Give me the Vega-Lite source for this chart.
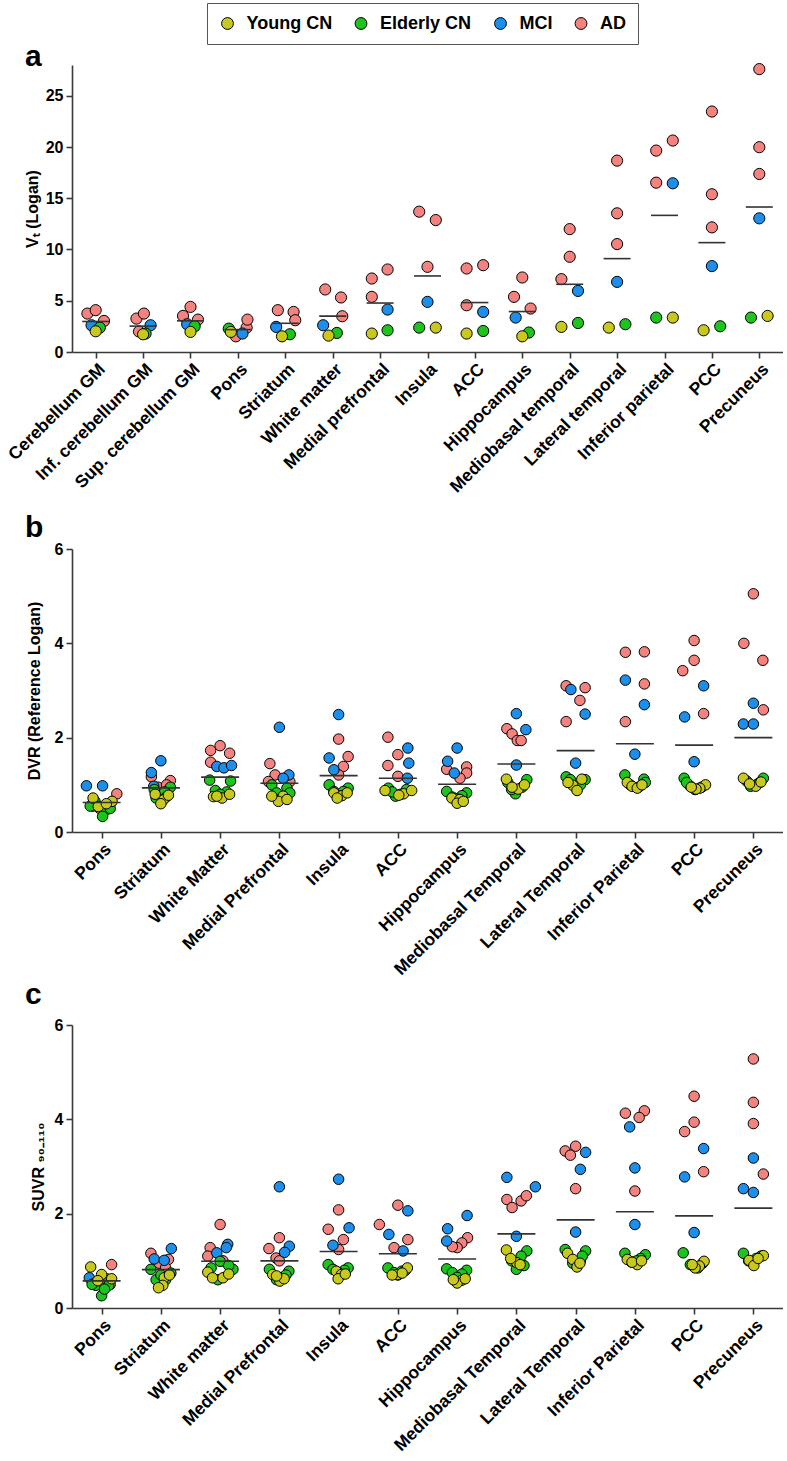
{
"$schema": "https://vega.github.io/schema/vega-lite/v6.json",
"padding": {"left": 4, "top": 2, "right": 0, "bottom": 0},
"config": {
  "font": "Liberation Sans",
  "view": {"stroke": null},
  "axis": {"domainColor": "#3a3a3a", "domainWidth": 1.6, "tickColor": "#3a3a3a", "tickWidth": 1.6, "tickSize": 6, "labelFont": "Liberation Sans", "labelFontWeight": "bold", "labelColor": "#000", "titleFont": "Liberation Sans", "titleFontWeight": "bold", "titleColor": "#000", "grid": false},
  "axisX": {"labelAngle": -45, "labelFontSize": 17.5, "labelPadding": 2},
  "axisY": {"labelFontSize": 16, "titleFontSize": 16, "labelPadding": 3},
  "title": {"font": "Liberation Sans", "fontSize": 30, "fontWeight": "bold", "color": "#000", "anchor": "start", "frame": "group", "baseline": "alphabetic", "dx": -47}
},
"resolve": {"scale": {"x": "independent", "y": "independent", "xOffset": "independent"}},
"spacing": 2,
"datasets": {
"a": [
{"region":"Cerebellum GM","group":"AD","value":3.75,"lane":-1},
{"region":"Cerebellum GM","group":"AD","value":4.08,"lane":0},
{"region":"Cerebellum GM","group":"AD","value":3.03,"lane":1},
{"region":"Cerebellum GM","group":"MCI","value":2.61,"lane":-0.5},
{"region":"Cerebellum GM","group":"Elderly CN","value":2.38,"lane":0.5},
{"region":"Cerebellum GM","group":"Young CN","value":2.02,"lane":0},
{"region":"Inf. cerebellum GM","group":"AD","value":3.26,"lane":-0.8},
{"region":"Inf. cerebellum GM","group":"AD","value":3.75,"lane":0.1},
{"region":"Inf. cerebellum GM","group":"AD","value":2.0,"lane":-0.5},
{"region":"Inf. cerebellum GM","group":"MCI","value":2.61,"lane":0.9},
{"region":"Inf. cerebellum GM","group":"Elderly CN","value":1.8,"lane":0.3},
{"region":"Inf. cerebellum GM","group":"Young CN","value":1.73,"lane":0},
{"region":"Sup. cerebellum GM","group":"AD","value":3.52,"lane":-0.9},
{"region":"Sup. cerebellum GM","group":"AD","value":4.4,"lane":0},
{"region":"Sup. cerebellum GM","group":"AD","value":3.16,"lane":0.9},
{"region":"Sup. cerebellum GM","group":"MCI","value":2.71,"lane":-0.4},
{"region":"Sup. cerebellum GM","group":"Elderly CN","value":2.51,"lane":0.5},
{"region":"Sup. cerebellum GM","group":"Young CN","value":1.96,"lane":0},
{"region":"Pons","group":"AD","value":1.53,"lane":-0.25},
{"region":"Pons","group":"AD","value":2.38,"lane":1.05},
{"region":"Pons","group":"AD","value":3.16,"lane":1.15},
{"region":"Pons","group":"MCI","value":1.8,"lane":0.55},
{"region":"Pons","group":"Elderly CN","value":2.28,"lane":-1.1},
{"region":"Pons","group":"Young CN","value":1.96,"lane":-0.85},
{"region":"Striatum","group":"AD","value":4.08,"lane":-0.9},
{"region":"Striatum","group":"AD","value":3.91,"lane":1},
{"region":"Striatum","group":"AD","value":3.1,"lane":1.2},
{"region":"Striatum","group":"MCI","value":2.45,"lane":-1.1},
{"region":"Striatum","group":"Elderly CN","value":1.73,"lane":0.55},
{"region":"Striatum","group":"Young CN","value":1.53,"lane":-0.4},
{"region":"White matter","group":"AD","value":6.1,"lane":-0.9},
{"region":"White matter","group":"AD","value":5.32,"lane":1},
{"region":"White matter","group":"AD","value":3.49,"lane":1.15},
{"region":"White matter","group":"MCI","value":2.61,"lane":-1.15},
{"region":"White matter","group":"Elderly CN","value":1.86,"lane":0.5},
{"region":"White matter","group":"Young CN","value":1.6,"lane":-0.5},
{"region":"Medial prefrontal","group":"AD","value":7.17,"lane":-1},
{"region":"Medial prefrontal","group":"AD","value":8.05,"lane":0.9},
{"region":"Medial prefrontal","group":"AD","value":5.38,"lane":-1},
{"region":"Medial prefrontal","group":"MCI","value":4.14,"lane":0.9},
{"region":"Medial prefrontal","group":"Elderly CN","value":2.12,"lane":0.9},
{"region":"Medial prefrontal","group":"Young CN","value":1.8,"lane":-1},
{"region":"Insula","group":"AD","value":13.69,"lane":-1},
{"region":"Insula","group":"AD","value":12.87,"lane":1},
{"region":"Insula","group":"AD","value":8.31,"lane":0},
{"region":"Insula","group":"MCI","value":4.89,"lane":0},
{"region":"Insula","group":"Elderly CN","value":2.38,"lane":-1},
{"region":"Insula","group":"Young CN","value":2.38,"lane":1},
{"region":"ACC","group":"AD","value":8.15,"lane":-1},
{"region":"ACC","group":"AD","value":8.47,"lane":1},
{"region":"ACC","group":"AD","value":4.56,"lane":-1},
{"region":"ACC","group":"MCI","value":3.91,"lane":1},
{"region":"ACC","group":"Elderly CN","value":2.05,"lane":1},
{"region":"ACC","group":"Young CN","value":1.8,"lane":-1},
{"region":"Hippocampus","group":"AD","value":7.27,"lane":0},
{"region":"Hippocampus","group":"AD","value":5.38,"lane":-1},
{"region":"Hippocampus","group":"AD","value":4.24,"lane":1},
{"region":"Hippocampus","group":"MCI","value":3.36,"lane":-0.8},
{"region":"Hippocampus","group":"Elderly CN","value":1.9,"lane":0.8},
{"region":"Hippocampus","group":"Young CN","value":1.53,"lane":0},
{"region":"Mediobasal temporal","group":"AD","value":11.99,"lane":0},
{"region":"Mediobasal temporal","group":"AD","value":9.29,"lane":0},
{"region":"Mediobasal temporal","group":"AD","value":7.11,"lane":-1},
{"region":"Mediobasal temporal","group":"MCI","value":5.96,"lane":1},
{"region":"Mediobasal temporal","group":"Elderly CN","value":2.83,"lane":1},
{"region":"Mediobasal temporal","group":"Young CN","value":2.45,"lane":-1},
{"region":"Lateral temporal","group":"AD","value":18.67,"lane":0},
{"region":"Lateral temporal","group":"AD","value":13.53,"lane":0},
{"region":"Lateral temporal","group":"AD","value":10.53,"lane":0},
{"region":"Lateral temporal","group":"MCI","value":6.84,"lane":0},
{"region":"Lateral temporal","group":"Elderly CN","value":2.71,"lane":1},
{"region":"Lateral temporal","group":"Young CN","value":2.38,"lane":-1},
{"region":"Inferior parietal","group":"AD","value":19.65,"lane":-1},
{"region":"Inferior parietal","group":"AD","value":20.63,"lane":1},
{"region":"Inferior parietal","group":"AD","value":16.52,"lane":-1},
{"region":"Inferior parietal","group":"MCI","value":16.46,"lane":1},
{"region":"Inferior parietal","group":"Elderly CN","value":3.36,"lane":-1},
{"region":"Inferior parietal","group":"Young CN","value":3.36,"lane":1},
{"region":"PCC","group":"AD","value":23.46,"lane":0},
{"region":"PCC","group":"AD","value":15.39,"lane":0},
{"region":"PCC","group":"AD","value":12.16,"lane":0},
{"region":"PCC","group":"MCI","value":8.38,"lane":0},
{"region":"PCC","group":"Elderly CN","value":2.51,"lane":1},
{"region":"PCC","group":"Young CN","value":2.12,"lane":-1},
{"region":"Precuneus","group":"AD","value":27.6,"lane":0},
{"region":"Precuneus","group":"AD","value":19.98,"lane":0},
{"region":"Precuneus","group":"AD","value":17.37,"lane":0},
{"region":"Precuneus","group":"MCI","value":13.04,"lane":0},
{"region":"Precuneus","group":"Elderly CN","value":3.36,"lane":-1},
{"region":"Precuneus","group":"Young CN","value":3.52,"lane":1}
],
"b": [
{"region":"Pons","group":"AD","value":0.81,"lane":1.6},
{"region":"Pons","group":"AD","value":0.6,"lane":0.9},
{"region":"Pons","group":"AD","value":0.55,"lane":-0.9},
{"region":"Pons","group":"AD","value":0.5,"lane":-0.2},
{"region":"Pons","group":"MCI","value":0.98,"lane":-1.6},
{"region":"Pons","group":"MCI","value":0.98,"lane":0.1},
{"region":"Pons","group":"MCI","value":0.6,"lane":-0.8},
{"region":"Pons","group":"Elderly CN","value":0.65,"lane":-0.7},
{"region":"Pons","group":"Elderly CN","value":0.47,"lane":0.5},
{"region":"Pons","group":"Elderly CN","value":0.33,"lane":0.1},
{"region":"Pons","group":"Elderly CN","value":0.55,"lane":-1.2},
{"region":"Pons","group":"Elderly CN","value":0.5,"lane":0.9},
{"region":"Pons","group":"Young CN","value":0.72,"lane":-0.9},
{"region":"Pons","group":"Young CN","value":0.65,"lane":1.1},
{"region":"Pons","group":"Young CN","value":0.54,"lane":-0.35},
{"region":"Pons","group":"Young CN","value":0.6,"lane":0.5},
{"region":"Striatum","group":"AD","value":1.17,"lane":-1},
{"region":"Striatum","group":"AD","value":1.09,"lane":1},
{"region":"Striatum","group":"AD","value":0.95,"lane":-0.3},
{"region":"Striatum","group":"AD","value":1.0,"lane":0.6},
{"region":"Striatum","group":"MCI","value":1.51,"lane":0},
{"region":"Striatum","group":"MCI","value":1.26,"lane":-1},
{"region":"Striatum","group":"MCI","value":0.97,"lane":-0.75},
{"region":"Striatum","group":"Elderly CN","value":0.9,"lane":-0.7},
{"region":"Striatum","group":"Elderly CN","value":0.95,"lane":1},
{"region":"Striatum","group":"Elderly CN","value":0.85,"lane":0.4},
{"region":"Striatum","group":"Elderly CN","value":0.72,"lane":-0.5},
{"region":"Striatum","group":"Elderly CN","value":0.75,"lane":0.6},
{"region":"Striatum","group":"Young CN","value":0.68,"lane":0.25},
{"region":"Striatum","group":"Young CN","value":0.6,"lane":0},
{"region":"Striatum","group":"Young CN","value":0.8,"lane":-0.6},
{"region":"Striatum","group":"Young CN","value":0.78,"lane":0.8},
{"region":"White Matter","group":"AD","value":1.73,"lane":-1},
{"region":"White Matter","group":"AD","value":1.83,"lane":0},
{"region":"White Matter","group":"AD","value":1.67,"lane":1},
{"region":"White Matter","group":"AD","value":1.48,"lane":-1},
{"region":"White Matter","group":"MCI","value":1.39,"lane":-0.35},
{"region":"White Matter","group":"MCI","value":1.36,"lane":0.4},
{"region":"White Matter","group":"MCI","value":1.41,"lane":1.2},
{"region":"White Matter","group":"Elderly CN","value":1.1,"lane":-1.1},
{"region":"White Matter","group":"Elderly CN","value":1.08,"lane":1.1},
{"region":"White Matter","group":"Elderly CN","value":0.88,"lane":-0.5},
{"region":"White Matter","group":"Elderly CN","value":0.85,"lane":0.7},
{"region":"White Matter","group":"Elderly CN","value":0.8,"lane":0},
{"region":"White Matter","group":"Young CN","value":0.75,"lane":-0.7},
{"region":"White Matter","group":"Young CN","value":0.72,"lane":0.2},
{"region":"White Matter","group":"Young CN","value":0.8,"lane":1},
{"region":"White Matter","group":"Young CN","value":0.76,"lane":-0.35},
{"region":"Medial Prefrontal","group":"AD","value":1.45,"lane":-1},
{"region":"Medial Prefrontal","group":"AD","value":1.21,"lane":-0.45},
{"region":"Medial Prefrontal","group":"AD","value":1.07,"lane":1.1},
{"region":"Medial Prefrontal","group":"AD","value":1.07,"lane":-1.15},
{"region":"Medial Prefrontal","group":"MCI","value":2.22,"lane":0},
{"region":"Medial Prefrontal","group":"MCI","value":1.21,"lane":1},
{"region":"Medial Prefrontal","group":"MCI","value":1.14,"lane":0.4},
{"region":"Medial Prefrontal","group":"Elderly CN","value":1.0,"lane":-0.8},
{"region":"Medial Prefrontal","group":"Elderly CN","value":0.93,"lane":0.8},
{"region":"Medial Prefrontal","group":"Elderly CN","value":0.83,"lane":-0.3},
{"region":"Medial Prefrontal","group":"Elderly CN","value":0.83,"lane":1.1},
{"region":"Medial Prefrontal","group":"Elderly CN","value":0.72,"lane":0.25},
{"region":"Medial Prefrontal","group":"Young CN","value":0.76,"lane":0.4},
{"region":"Medial Prefrontal","group":"Young CN","value":0.65,"lane":-0.1},
{"region":"Medial Prefrontal","group":"Young CN","value":0.76,"lane":-0.8},
{"region":"Medial Prefrontal","group":"Young CN","value":0.69,"lane":0.8},
{"region":"Insula","group":"AD","value":1.97,"lane":0},
{"region":"Insula","group":"AD","value":1.6,"lane":1},
{"region":"Insula","group":"AD","value":1.39,"lane":0.5},
{"region":"Insula","group":"AD","value":1.21,"lane":0},
{"region":"Insula","group":"MCI","value":2.49,"lane":0},
{"region":"Insula","group":"MCI","value":1.57,"lane":-1},
{"region":"Insula","group":"MCI","value":1.32,"lane":-0.5},
{"region":"Insula","group":"Elderly CN","value":1.0,"lane":-1},
{"region":"Insula","group":"Elderly CN","value":0.93,"lane":1},
{"region":"Insula","group":"Elderly CN","value":0.86,"lane":-0.5},
{"region":"Insula","group":"Elderly CN","value":0.86,"lane":0.5},
{"region":"Insula","group":"Elderly CN","value":0.76,"lane":0},
{"region":"Insula","group":"Young CN","value":0.83,"lane":-0.5},
{"region":"Insula","group":"Young CN","value":0.77,"lane":0.35},
{"region":"Insula","group":"Young CN","value":0.72,"lane":-0.15},
{"region":"Insula","group":"Young CN","value":0.83,"lane":0.9},
{"region":"ACC","group":"AD","value":2.01,"lane":-1.05},
{"region":"ACC","group":"AD","value":1.64,"lane":0},
{"region":"ACC","group":"AD","value":1.41,"lane":-1.05},
{"region":"ACC","group":"AD","value":1.18,"lane":0},
{"region":"ACC","group":"MCI","value":1.78,"lane":1.05},
{"region":"ACC","group":"MCI","value":1.46,"lane":1.15},
{"region":"ACC","group":"MCI","value":1.14,"lane":1},
{"region":"ACC","group":"Elderly CN","value":0.93,"lane":-1},
{"region":"ACC","group":"Elderly CN","value":0.76,"lane":-0.25},
{"region":"ACC","group":"Elderly CN","value":0.8,"lane":0.3},
{"region":"ACC","group":"Elderly CN","value":0.85,"lane":-0.6},
{"region":"ACC","group":"Elderly CN","value":0.9,"lane":0.9},
{"region":"ACC","group":"Young CN","value":0.88,"lane":-1.35},
{"region":"ACC","group":"Young CN","value":0.81,"lane":0.6},
{"region":"ACC","group":"Young CN","value":0.88,"lane":1.45},
{"region":"ACC","group":"Young CN","value":0.78,"lane":0.1},
{"region":"Hippocampus","group":"AD","value":1.33,"lane":-1.1},
{"region":"Hippocampus","group":"AD","value":1.38,"lane":1},
{"region":"Hippocampus","group":"AD","value":1.25,"lane":1},
{"region":"Hippocampus","group":"AD","value":1.14,"lane":0.3},
{"region":"Hippocampus","group":"MCI","value":1.78,"lane":0},
{"region":"Hippocampus","group":"MCI","value":1.5,"lane":-1},
{"region":"Hippocampus","group":"MCI","value":1.25,"lane":-0.3},
{"region":"Hippocampus","group":"Elderly CN","value":0.86,"lane":-1.1},
{"region":"Hippocampus","group":"Elderly CN","value":0.83,"lane":1},
{"region":"Hippocampus","group":"Elderly CN","value":0.74,"lane":-0.5},
{"region":"Hippocampus","group":"Elderly CN","value":0.77,"lane":0.5},
{"region":"Hippocampus","group":"Elderly CN","value":0.7,"lane":0},
{"region":"Hippocampus","group":"Young CN","value":0.72,"lane":-0.55},
{"region":"Hippocampus","group":"Young CN","value":0.69,"lane":0.3},
{"region":"Hippocampus","group":"Young CN","value":0.61,"lane":0},
{"region":"Hippocampus","group":"Young CN","value":0.65,"lane":0.65},
{"region":"Mediobasal Temporal","group":"AD","value":2.19,"lane":-1},
{"region":"Mediobasal Temporal","group":"AD","value":2.08,"lane":-0.45},
{"region":"Mediobasal Temporal","group":"AD","value":1.94,"lane":0.1},
{"region":"Mediobasal Temporal","group":"AD","value":1.94,"lane":0.5},
{"region":"Mediobasal Temporal","group":"MCI","value":2.51,"lane":0},
{"region":"Mediobasal Temporal","group":"MCI","value":2.17,"lane":1},
{"region":"Mediobasal Temporal","group":"MCI","value":1.42,"lane":0},
{"region":"Mediobasal Temporal","group":"Elderly CN","value":1.11,"lane":1.1},
{"region":"Mediobasal Temporal","group":"Elderly CN","value":1.05,"lane":-0.9},
{"region":"Mediobasal Temporal","group":"Elderly CN","value":0.95,"lane":0.6},
{"region":"Mediobasal Temporal","group":"Elderly CN","value":0.81,"lane":-0.1},
{"region":"Mediobasal Temporal","group":"Elderly CN","value":0.9,"lane":-0.5},
{"region":"Mediobasal Temporal","group":"Young CN","value":1.12,"lane":-1.05},
{"region":"Mediobasal Temporal","group":"Young CN","value":0.91,"lane":0.2},
{"region":"Mediobasal Temporal","group":"Young CN","value":0.95,"lane":-0.45},
{"region":"Mediobasal Temporal","group":"Young CN","value":1.0,"lane":0.85},
{"region":"Lateral Temporal","group":"AD","value":3.1,"lane":-1},
{"region":"Lateral Temporal","group":"AD","value":3.06,"lane":1},
{"region":"Lateral Temporal","group":"AD","value":2.79,"lane":0.45},
{"region":"Lateral Temporal","group":"AD","value":2.34,"lane":-1},
{"region":"Lateral Temporal","group":"MCI","value":3.02,"lane":-0.5},
{"region":"Lateral Temporal","group":"MCI","value":2.5,"lane":1},
{"region":"Lateral Temporal","group":"MCI","value":1.46,"lane":0},
{"region":"Lateral Temporal","group":"Elderly CN","value":1.17,"lane":-1},
{"region":"Lateral Temporal","group":"Elderly CN","value":1.11,"lane":1},
{"region":"Lateral Temporal","group":"Elderly CN","value":1.11,"lane":-0.55},
{"region":"Lateral Temporal","group":"Elderly CN","value":0.9,"lane":0.15},
{"region":"Lateral Temporal","group":"Elderly CN","value":1.0,"lane":0.5},
{"region":"Lateral Temporal","group":"Young CN","value":1.12,"lane":0.65},
{"region":"Lateral Temporal","group":"Young CN","value":0.99,"lane":-0.3},
{"region":"Lateral Temporal","group":"Young CN","value":0.88,"lane":0.15},
{"region":"Lateral Temporal","group":"Young CN","value":1.05,"lane":-0.8},
{"region":"Inferior Parietal","group":"AD","value":3.81,"lane":-1},
{"region":"Inferior Parietal","group":"AD","value":3.82,"lane":1},
{"region":"Inferior Parietal","group":"AD","value":3.14,"lane":1},
{"region":"Inferior Parietal","group":"AD","value":2.34,"lane":-1},
{"region":"Inferior Parietal","group":"MCI","value":3.22,"lane":-1},
{"region":"Inferior Parietal","group":"MCI","value":2.7,"lane":1},
{"region":"Inferior Parietal","group":"MCI","value":1.65,"lane":0},
{"region":"Inferior Parietal","group":"Elderly CN","value":1.21,"lane":-1.05},
{"region":"Inferior Parietal","group":"Elderly CN","value":1.12,"lane":0.95},
{"region":"Inferior Parietal","group":"Elderly CN","value":1.05,"lane":1.1},
{"region":"Inferior Parietal","group":"Elderly CN","value":1.0,"lane":-0.5},
{"region":"Inferior Parietal","group":"Elderly CN","value":0.95,"lane":0.4},
{"region":"Inferior Parietal","group":"Young CN","value":1.05,"lane":-0.8},
{"region":"Inferior Parietal","group":"Young CN","value":0.97,"lane":-0.3},
{"region":"Inferior Parietal","group":"Young CN","value":0.93,"lane":0.25},
{"region":"Inferior Parietal","group":"Young CN","value":1.0,"lane":0.75},
{"region":"PCC","group":"AD","value":4.06,"lane":0},
{"region":"PCC","group":"AD","value":3.64,"lane":0},
{"region":"PCC","group":"AD","value":3.42,"lane":-1.2},
{"region":"PCC","group":"AD","value":2.51,"lane":1},
{"region":"PCC","group":"MCI","value":3.1,"lane":1},
{"region":"PCC","group":"MCI","value":2.44,"lane":-1},
{"region":"PCC","group":"MCI","value":1.49,"lane":0},
{"region":"PCC","group":"Elderly CN","value":1.14,"lane":-1.05},
{"region":"PCC","group":"Elderly CN","value":0.97,"lane":-0.4},
{"region":"PCC","group":"Elderly CN","value":0.9,"lane":0.1},
{"region":"PCC","group":"Elderly CN","value":1.05,"lane":-0.8},
{"region":"PCC","group":"Elderly CN","value":0.95,"lane":0.8},
{"region":"PCC","group":"Young CN","value":1.0,"lane":1.2},
{"region":"PCC","group":"Young CN","value":0.93,"lane":0.6},
{"region":"PCC","group":"Young CN","value":0.91,"lane":0.2},
{"region":"PCC","group":"Young CN","value":0.95,"lane":-0.3},
{"region":"Precuneus","group":"AD","value":5.05,"lane":0},
{"region":"Precuneus","group":"AD","value":4.0,"lane":-1},
{"region":"Precuneus","group":"AD","value":3.64,"lane":1},
{"region":"Precuneus","group":"AD","value":2.59,"lane":1.05},
{"region":"Precuneus","group":"MCI","value":2.73,"lane":0},
{"region":"Precuneus","group":"MCI","value":2.29,"lane":-1.05},
{"region":"Precuneus","group":"MCI","value":2.29,"lane":0},
{"region":"Precuneus","group":"Elderly CN","value":1.14,"lane":1.05},
{"region":"Precuneus","group":"Elderly CN","value":1.04,"lane":0.6},
{"region":"Precuneus","group":"Elderly CN","value":0.97,"lane":-0.3},
{"region":"Precuneus","group":"Elderly CN","value":1.08,"lane":-0.7},
{"region":"Precuneus","group":"Elderly CN","value":1.0,"lane":0.3},
{"region":"Precuneus","group":"Young CN","value":1.14,"lane":-1.05},
{"region":"Precuneus","group":"Young CN","value":0.97,"lane":0.25},
{"region":"Precuneus","group":"Young CN","value":1.02,"lane":-0.4},
{"region":"Precuneus","group":"Young CN","value":1.06,"lane":0.8}
],
"c": [
{"region":"Pons","group":"AD","value":0.92,"lane":1.05},
{"region":"Pons","group":"AD","value":0.62,"lane":0.5},
{"region":"Pons","group":"AD","value":0.55,"lane":-0.3},
{"region":"Pons","group":"AD","value":0.5,"lane":0.9},
{"region":"Pons","group":"MCI","value":0.64,"lane":-1.3},
{"region":"Pons","group":"MCI","value":0.52,"lane":-0.8},
{"region":"Pons","group":"MCI","value":0.55,"lane":0.3},
{"region":"Pons","group":"Elderly CN","value":0.48,"lane":-0.6},
{"region":"Pons","group":"Elderly CN","value":0.48,"lane":0.75},
{"region":"Pons","group":"Elderly CN","value":0.26,"lane":0},
{"region":"Pons","group":"Elderly CN","value":0.5,"lane":-1},
{"region":"Pons","group":"Elderly CN","value":0.4,"lane":0.3},
{"region":"Pons","group":"Young CN","value":0.87,"lane":-1.15},
{"region":"Pons","group":"Young CN","value":0.71,"lane":0},
{"region":"Pons","group":"Young CN","value":0.62,"lane":1.05},
{"region":"Pons","group":"Young CN","value":0.58,"lane":-0.4},
{"region":"Striatum","group":"AD","value":1.16,"lane":-1.05},
{"region":"Striatum","group":"AD","value":1.03,"lane":0.8},
{"region":"Striatum","group":"AD","value":0.95,"lane":-0.2},
{"region":"Striatum","group":"AD","value":0.85,"lane":0.5},
{"region":"Striatum","group":"MCI","value":1.26,"lane":1.1},
{"region":"Striatum","group":"MCI","value":1.04,"lane":-0.7},
{"region":"Striatum","group":"MCI","value":1.01,"lane":0.35},
{"region":"Striatum","group":"Elderly CN","value":0.82,"lane":-1.05},
{"region":"Striatum","group":"Elderly CN","value":0.74,"lane":1.05},
{"region":"Striatum","group":"Elderly CN","value":0.6,"lane":-0.5},
{"region":"Striatum","group":"Elderly CN","value":0.6,"lane":0.5},
{"region":"Striatum","group":"Elderly CN","value":0.7,"lane":0},
{"region":"Striatum","group":"Young CN","value":0.64,"lane":0.35},
{"region":"Striatum","group":"Young CN","value":0.48,"lane":0.2},
{"region":"Striatum","group":"Young CN","value":0.43,"lane":-0.25},
{"region":"Striatum","group":"Young CN","value":0.7,"lane":0.9},
{"region":"White matter","group":"AD","value":1.77,"lane":0},
{"region":"White matter","group":"AD","value":1.28,"lane":-1.05},
{"region":"White matter","group":"AD","value":1.1,"lane":-1.3},
{"region":"White matter","group":"AD","value":1.0,"lane":0.3},
{"region":"White matter","group":"MCI","value":1.35,"lane":0.8},
{"region":"White matter","group":"MCI","value":1.17,"lane":-0.35},
{"region":"White matter","group":"MCI","value":1.28,"lane":0.65},
{"region":"White matter","group":"Elderly CN","value":0.99,"lane":0},
{"region":"White matter","group":"Elderly CN","value":0.82,"lane":1.35},
{"region":"White matter","group":"Elderly CN","value":0.85,"lane":-0.95},
{"region":"White matter","group":"Elderly CN","value":0.6,"lane":-0.25},
{"region":"White matter","group":"Elderly CN","value":0.9,"lane":0.9},
{"region":"White matter","group":"Young CN","value":0.76,"lane":-1.3},
{"region":"White matter","group":"Young CN","value":0.64,"lane":-0.8},
{"region":"White matter","group":"Young CN","value":0.64,"lane":0.3},
{"region":"White matter","group":"Young CN","value":0.72,"lane":0.9},
{"region":"Medial Prefrontal","group":"AD","value":1.49,"lane":0},
{"region":"Medial Prefrontal","group":"AD","value":1.26,"lane":-1.1},
{"region":"Medial Prefrontal","group":"AD","value":1.06,"lane":-0.35},
{"region":"Medial Prefrontal","group":"AD","value":1.0,"lane":0},
{"region":"Medial Prefrontal","group":"MCI","value":2.57,"lane":0},
{"region":"Medial Prefrontal","group":"MCI","value":1.31,"lane":1.05},
{"region":"Medial Prefrontal","group":"MCI","value":1.18,"lane":0.55},
{"region":"Medial Prefrontal","group":"Elderly CN","value":0.82,"lane":-1.05},
{"region":"Medial Prefrontal","group":"Elderly CN","value":0.78,"lane":1},
{"region":"Medial Prefrontal","group":"Elderly CN","value":0.65,"lane":0.3},
{"region":"Medial Prefrontal","group":"Elderly CN","value":0.7,"lane":0.7},
{"region":"Medial Prefrontal","group":"Elderly CN","value":0.6,"lane":-0.3},
{"region":"Medial Prefrontal","group":"Young CN","value":0.71,"lane":-0.7},
{"region":"Medial Prefrontal","group":"Young CN","value":0.57,"lane":0.05},
{"region":"Medial Prefrontal","group":"Young CN","value":0.62,"lane":0.5},
{"region":"Medial Prefrontal","group":"Young CN","value":0.68,"lane":-0.3},
{"region":"Insula","group":"AD","value":2.08,"lane":0},
{"region":"Insula","group":"AD","value":1.67,"lane":-1.1},
{"region":"Insula","group":"AD","value":1.45,"lane":0.5},
{"region":"Insula","group":"AD","value":1.24,"lane":0},
{"region":"Insula","group":"MCI","value":2.73,"lane":0},
{"region":"Insula","group":"MCI","value":1.7,"lane":1.1},
{"region":"Insula","group":"MCI","value":1.33,"lane":-0.6},
{"region":"Insula","group":"Elderly CN","value":0.92,"lane":-1.1},
{"region":"Insula","group":"Elderly CN","value":0.85,"lane":1},
{"region":"Insula","group":"Elderly CN","value":0.82,"lane":-0.6},
{"region":"Insula","group":"Elderly CN","value":0.8,"lane":0.6},
{"region":"Insula","group":"Elderly CN","value":0.75,"lane":0},
{"region":"Insula","group":"Young CN","value":0.78,"lane":-0.25},
{"region":"Insula","group":"Young CN","value":0.71,"lane":0.3},
{"region":"Insula","group":"Young CN","value":0.62,"lane":-0.05},
{"region":"Insula","group":"Young CN","value":0.72,"lane":0.7},
{"region":"ACC","group":"AD","value":2.18,"lane":0},
{"region":"ACC","group":"AD","value":1.77,"lane":-1.95},
{"region":"ACC","group":"AD","value":1.28,"lane":-0.4},
{"region":"ACC","group":"AD","value":1.45,"lane":1.05},
{"region":"ACC","group":"MCI","value":2.06,"lane":1.05},
{"region":"ACC","group":"MCI","value":1.56,"lane":-0.95},
{"region":"ACC","group":"MCI","value":1.21,"lane":0.55},
{"region":"ACC","group":"Elderly CN","value":0.85,"lane":-1.05},
{"region":"ACC","group":"Elderly CN","value":0.75,"lane":-0.4},
{"region":"ACC","group":"Elderly CN","value":0.78,"lane":0.4},
{"region":"ACC","group":"Elderly CN","value":0.7,"lane":0},
{"region":"ACC","group":"Elderly CN","value":0.8,"lane":0.8},
{"region":"ACC","group":"Young CN","value":0.85,"lane":1},
{"region":"ACC","group":"Young CN","value":0.71,"lane":-0.05},
{"region":"ACC","group":"Young CN","value":0.74,"lane":0.45},
{"region":"ACC","group":"Young CN","value":0.7,"lane":-0.6},
{"region":"Hippocampus","group":"AD","value":1.49,"lane":1.1},
{"region":"Hippocampus","group":"AD","value":1.38,"lane":0.5},
{"region":"Hippocampus","group":"AD","value":1.28,"lane":0},
{"region":"Hippocampus","group":"AD","value":1.3,"lane":-0.5},
{"region":"Hippocampus","group":"MCI","value":1.96,"lane":1.05},
{"region":"Hippocampus","group":"MCI","value":1.68,"lane":-1},
{"region":"Hippocampus","group":"MCI","value":1.42,"lane":-1.1},
{"region":"Hippocampus","group":"Elderly CN","value":0.83,"lane":-1.1},
{"region":"Hippocampus","group":"Elderly CN","value":0.8,"lane":1},
{"region":"Hippocampus","group":"Elderly CN","value":0.75,"lane":-0.5},
{"region":"Hippocampus","group":"Elderly CN","value":0.72,"lane":0.5},
{"region":"Hippocampus","group":"Elderly CN","value":0.65,"lane":0},
{"region":"Hippocampus","group":"Young CN","value":0.59,"lane":0.5},
{"region":"Hippocampus","group":"Young CN","value":0.53,"lane":0},
{"region":"Hippocampus","group":"Young CN","value":0.6,"lane":-0.4},
{"region":"Hippocampus","group":"Young CN","value":0.62,"lane":0.85},
{"region":"Mediobasal Temporal","group":"AD","value":2.3,"lane":-1},
{"region":"Mediobasal Temporal","group":"AD","value":2.13,"lane":-0.45},
{"region":"Mediobasal Temporal","group":"AD","value":2.27,"lane":0.5},
{"region":"Mediobasal Temporal","group":"AD","value":2.38,"lane":1.05},
{"region":"Mediobasal Temporal","group":"MCI","value":2.77,"lane":-1},
{"region":"Mediobasal Temporal","group":"MCI","value":2.57,"lane":2},
{"region":"Mediobasal Temporal","group":"MCI","value":1.52,"lane":0},
{"region":"Mediobasal Temporal","group":"Elderly CN","value":1.21,"lane":1.1},
{"region":"Mediobasal Temporal","group":"Elderly CN","value":1.1,"lane":0.5},
{"region":"Mediobasal Temporal","group":"Elderly CN","value":0.82,"lane":0},
{"region":"Mediobasal Temporal","group":"Elderly CN","value":1.0,"lane":-0.5},
{"region":"Mediobasal Temporal","group":"Elderly CN","value":0.9,"lane":0.8},
{"region":"Mediobasal Temporal","group":"Young CN","value":1.23,"lane":-1.05},
{"region":"Mediobasal Temporal","group":"Young CN","value":0.96,"lane":0.05},
{"region":"Mediobasal Temporal","group":"Young CN","value":0.92,"lane":0.4},
{"region":"Mediobasal Temporal","group":"Young CN","value":1.05,"lane":-0.6},
{"region":"Lateral Temporal","group":"AD","value":3.33,"lane":-1.1},
{"region":"Lateral Temporal","group":"AD","value":3.43,"lane":0},
{"region":"Lateral Temporal","group":"AD","value":3.24,"lane":-0.55},
{"region":"Lateral Temporal","group":"AD","value":2.53,"lane":0},
{"region":"Lateral Temporal","group":"MCI","value":3.3,"lane":1.05},
{"region":"Lateral Temporal","group":"MCI","value":2.94,"lane":0.5},
{"region":"Lateral Temporal","group":"MCI","value":1.61,"lane":0},
{"region":"Lateral Temporal","group":"Elderly CN","value":1.24,"lane":-1.1},
{"region":"Lateral Temporal","group":"Elderly CN","value":1.21,"lane":1.05},
{"region":"Lateral Temporal","group":"Elderly CN","value":1.0,"lane":0.5},
{"region":"Lateral Temporal","group":"Elderly CN","value":0.95,"lane":-0.3},
{"region":"Lateral Temporal","group":"Elderly CN","value":1.1,"lane":0.7},
{"region":"Lateral Temporal","group":"Young CN","value":1.16,"lane":-0.85},
{"region":"Lateral Temporal","group":"Young CN","value":1.03,"lane":-0.3},
{"region":"Lateral Temporal","group":"Young CN","value":0.87,"lane":0.15},
{"region":"Lateral Temporal","group":"Young CN","value":0.95,"lane":0.45},
{"region":"Inferior Parietal","group":"AD","value":4.13,"lane":-1},
{"region":"Inferior Parietal","group":"AD","value":4.18,"lane":1},
{"region":"Inferior Parietal","group":"AD","value":4.04,"lane":0.45},
{"region":"Inferior Parietal","group":"AD","value":2.48,"lane":0},
{"region":"Inferior Parietal","group":"MCI","value":3.84,"lane":-0.55},
{"region":"Inferior Parietal","group":"MCI","value":2.97,"lane":0},
{"region":"Inferior Parietal","group":"MCI","value":1.77,"lane":0},
{"region":"Inferior Parietal","group":"Elderly CN","value":1.16,"lane":-1.05},
{"region":"Inferior Parietal","group":"Elderly CN","value":1.13,"lane":1.1},
{"region":"Inferior Parietal","group":"Elderly CN","value":1.05,"lane":0.6},
{"region":"Inferior Parietal","group":"Elderly CN","value":0.98,"lane":-0.4},
{"region":"Inferior Parietal","group":"Elderly CN","value":1.0,"lane":0.2},
{"region":"Inferior Parietal","group":"Young CN","value":1.03,"lane":-0.8},
{"region":"Inferior Parietal","group":"Young CN","value":0.92,"lane":0.25},
{"region":"Inferior Parietal","group":"Young CN","value":0.97,"lane":-0.3},
{"region":"Inferior Parietal","group":"Young CN","value":1.0,"lane":0.7},
{"region":"PCC","group":"AD","value":4.49,"lane":0},
{"region":"PCC","group":"AD","value":3.94,"lane":0},
{"region":"PCC","group":"AD","value":3.74,"lane":-1},
{"region":"PCC","group":"AD","value":2.89,"lane":1},
{"region":"PCC","group":"MCI","value":3.38,"lane":1},
{"region":"PCC","group":"MCI","value":2.78,"lane":-1},
{"region":"PCC","group":"MCI","value":1.6,"lane":0},
{"region":"PCC","group":"Elderly CN","value":1.17,"lane":-1.15},
{"region":"PCC","group":"Elderly CN","value":0.92,"lane":-0.4},
{"region":"PCC","group":"Elderly CN","value":0.95,"lane":0.9},
{"region":"PCC","group":"Elderly CN","value":0.88,"lane":0},
{"region":"PCC","group":"Elderly CN","value":0.85,"lane":0.4},
{"region":"PCC","group":"Young CN","value":0.99,"lane":1.05},
{"region":"PCC","group":"Young CN","value":0.89,"lane":0.55},
{"region":"PCC","group":"Young CN","value":0.85,"lane":0.1},
{"region":"PCC","group":"Young CN","value":0.92,"lane":-0.2},
{"region":"Precuneus","group":"AD","value":5.28,"lane":0},
{"region":"Precuneus","group":"AD","value":4.36,"lane":0},
{"region":"Precuneus","group":"AD","value":3.91,"lane":0},
{"region":"Precuneus","group":"AD","value":2.84,"lane":1.05},
{"region":"Precuneus","group":"MCI","value":3.18,"lane":0},
{"region":"Precuneus","group":"MCI","value":2.53,"lane":-1.05},
{"region":"Precuneus","group":"MCI","value":2.45,"lane":0},
{"region":"Precuneus","group":"Elderly CN","value":1.16,"lane":-1.05},
{"region":"Precuneus","group":"Elderly CN","value":1.1,"lane":0.8},
{"region":"Precuneus","group":"Elderly CN","value":1.0,"lane":-0.5},
{"region":"Precuneus","group":"Elderly CN","value":1.05,"lane":0.3},
{"region":"Precuneus","group":"Elderly CN","value":0.95,"lane":0},
{"region":"Precuneus","group":"Young CN","value":1.11,"lane":1.05},
{"region":"Precuneus","group":"Young CN","value":1.01,"lane":-0.45},
{"region":"Precuneus","group":"Young CN","value":0.9,"lane":0.05},
{"region":"Precuneus","group":"Young CN","value":1.05,"lane":0.5}
]
},
"vconcat": [
{
  "title": {"text": "a", "offset": -10},
  "width": 711, "height": 287,
  "data": {"name": "a"},
  "layer": [
    {"mark": {"type": "point", "filled": true, "size": 125, "stroke": "#000", "strokeWidth": 1, "opacity": 1},
     "encoding": {
       "x": {"field": "region", "type": "nominal", "sort": ["Cerebellum GM","Inf. cerebellum GM","Sup. cerebellum GM","Pons","Striatum","White matter","Medial prefrontal","Insula","ACC","Hippocampus","Mediobasal temporal","Lateral temporal","Inferior parietal","PCC","Precuneus"], "scale": {"type": "point", "padding": 0.5}, "axis": {"title": null}},
       "xOffset": {"field": "lane", "type": "quantitative", "scale": {"domain": [-1, 1], "range": [-8.3, 8.3]}},
       "y": {"field": "value", "type": "quantitative", "scale": {"domain": [0, 28]}, "axis": {"values": [0,5,10,15,20,25], "title": "Vₜ  (Logan)", "titlePadding": 5}},
       "color": {"field": "group", "type": "nominal", "scale": {"domain": ["Young CN","Elderly CN","MCI","AD"], "range": ["#C9C81C","#1DC41D","#1C8FEC","#F4827E"]},
         "legend": {"orient": "none", "legendX": 135, "legendY": -62, "direction": "horizontal", "title": null, "strokeColor": "#555", "fillColor": "#fff", "padding": 11.5, "labelFontSize": 18, "labelFont": "Liberation Sans", "labelFontWeight": "bold", "labelColor": "#000", "symbolType": "circle", "symbolSize": 140, "symbolStrokeColor": "#000", "symbolStrokeWidth": 1, "symbolOpacity": 1, "columnPadding": 19.5, "labelOffset": 10}}
     }},
    {"mark": {"type": "tick", "color": "#333", "thickness": 1.6, "size": 27},
     "encoding": {
       "x": {"field": "region", "type": "nominal", "sort": ["Cerebellum GM","Inf. cerebellum GM","Sup. cerebellum GM","Pons","Striatum","White matter","Medial prefrontal","Insula","ACC","Hippocampus","Mediobasal temporal","Lateral temporal","Inferior parietal","PCC","Precuneus"]},
       "y": {"aggregate": "mean", "field": "value", "type": "quantitative"}
     }}
  ]
},
{
  "title": {"text": ["", "b"], "lineHeight": 15, "offset": -2},
  "width": 711, "height": 283,
  "data": {"name": "b"},
  "layer": [
    {"mark": {"type": "point", "filled": true, "size": 110, "stroke": "#000", "strokeWidth": 1, "opacity": 1},
     "encoding": {
       "x": {"field": "region", "type": "nominal", "sort": ["Pons","Striatum","White Matter","Medial Prefrontal","Insula","ACC","Hippocampus","Mediobasal Temporal","Lateral Temporal","Inferior Parietal","PCC","Precuneus"], "scale": {"type": "point", "padding": 0.5}, "axis": {"title": null}},
       "xOffset": {"field": "lane", "type": "quantitative", "scale": {"domain": [-1, 1], "range": [-9.5, 9.5]}},
       "y": {"field": "value", "type": "quantitative", "scale": {"domain": [0, 6]}, "axis": {"values": [0,2,4,6], "title": "DVR (Reference Logan)", "titlePadding": 12}},
       "color": {"field": "group", "type": "nominal"}
     }},
    {"mark": {"type": "tick", "color": "#333", "thickness": 1.6, "size": 38},
     "encoding": {
       "x": {"field": "region", "type": "nominal", "sort": ["Pons","Striatum","White Matter","Medial Prefrontal","Insula","ACC","Hippocampus","Mediobasal Temporal","Lateral Temporal","Inferior Parietal","PCC","Precuneus"]},
       "y": {"aggregate": "mean", "field": "value", "type": "quantitative"}
     }}
  ]
},
{
  "title": {"text": "c", "offset": 7},
  "width": 711, "height": 283,
  "data": {"name": "c"},
  "layer": [
    {"mark": {"type": "point", "filled": true, "size": 110, "stroke": "#000", "strokeWidth": 1, "opacity": 1},
     "encoding": {
       "x": {"field": "region", "type": "nominal", "sort": ["Pons","Striatum","White matter","Medial Prefrontal","Insula","ACC","Hippocampus","Mediobasal Temporal","Lateral Temporal","Inferior Parietal","PCC","Precuneus"], "scale": {"type": "point", "padding": 0.5}, "axis": {"title": null}},
       "xOffset": {"field": "lane", "type": "quantitative", "scale": {"domain": [-1, 1], "range": [-9.5, 9.5]}},
       "y": {"field": "value", "type": "quantitative", "scale": {"domain": [0, 6]}, "axis": {"values": [0,2,4,6], "title": "SUVR ₉₀₋₁₁₀", "titlePadding": 8}},
       "color": {"field": "group", "type": "nominal"}
     }},
    {"mark": {"type": "tick", "color": "#333", "thickness": 1.6, "size": 38},
     "encoding": {
       "x": {"field": "region", "type": "nominal", "sort": ["Pons","Striatum","White matter","Medial Prefrontal","Insula","ACC","Hippocampus","Mediobasal Temporal","Lateral Temporal","Inferior Parietal","PCC","Precuneus"]},
       "y": {"aggregate": "mean", "field": "value", "type": "quantitative"}
     }}
  ]
}
]
}
